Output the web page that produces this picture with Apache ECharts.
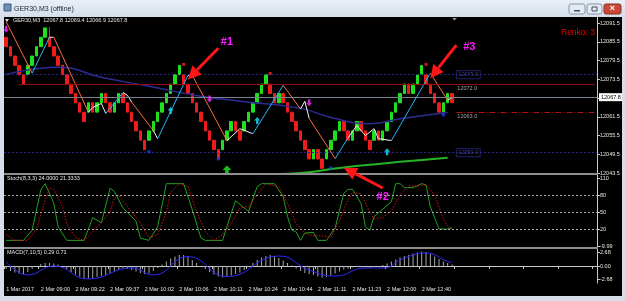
<!DOCTYPE html>
<html>
<head>
<meta charset="utf-8">
<script src="https://cdn.jsdelivr.net/npm/echarts@6/dist/echarts.min.js"></script>
<style>
  html, body { margin: 0; padding: 0; background: #d6dfe9; }
  #chart { width: 625px; height: 301px; }
</style>
</head>
<body>
<div id="chart"></div>
<script>
// time axis labels, one every 8 bars
const tickLabels = ['1 Mar 2017', '2 Mar 09:00', '2 Mar 09:22', '2 Mar 09:37', '2 Mar 10:02', '2 Mar 10:06',
  '2 Mar 10:11', '2 Mar 10:24', '2 Mar 10:44', '2 Mar 11:11', '2 Mar 11:23', '2 Mar 12:00', '2 Mar 12:40'];
const slotCount = 137; // bars + chart shift space
const brickSize = 3;
const firstOpen = 12087;
// renko brick closes
const brickClose = [12084, 12081, 12078, 12075, 12072, 12078, 12081, 12084, 12087, 12090,
  12084, 12081, 12078, 12075, 12072, 12069, 12066, 12063, 12060,
  12066, 12063, 12066, 12069, 12066, 12063, 12066, 12069, 12066, 12063, 12060, 12057, 12054, 12051,
  12057, 12060, 12063, 12066, 12069, 12072, 12075, 12078,
  12072, 12069, 12066, 12063, 12060, 12057, 12054, 12051, 12048,
  12054, 12057, 12060, 12057, 12054, 12060, 12063, 12066, 12069, 12072, 12075,
  12069, 12066, 12069, 12066, 12063, 12060, 12057, 12054, 12051, 12048,
  12051, 12048, 12045,
  12051, 12054, 12057, 12060, 12057, 12054, 12057, 12060, 12057, 12054, 12051,
  12057, 12054, 12057, 12060, 12063, 12066, 12069, 12072, 12069, 12072, 12075, 12078,
  12072, 12069, 12066, 12063, 12066, 12069, 12066];
// wick extremes seen on a few bricks: [index, low, high]
const brickWicks = [[10, 12084, 12090.3]];
const lastBar = ['12067.8', '12069.4', '12066.9', '12067.8'];
const priceTicks = [12091.5, 12085.5, 12079.5, 12073.5, 12067.5, 12061.5, 12055.5, 12049.5, 12043.5];
const lastPrice = 12067.8;
const dotLevels = [12075, 12050];
const resLevel = 12072;
const supLevel = 12063;

// coloured trend line: pivots and direction of each segment (1 up, -1 down, 0 flat)
const trendPts = [[0, 12092], [6, 12075.5], [10, 12087], [11, 12087], [19, 12063], [20, 12064.5], [22, 12065.8],
  [23, 12062.6], [27, 12069.3], [28, 12068.4], [29, 12066.2], [34, 12057.1], [35, 12054.5], [42, 12074.8],
  [43, 12074.8], [51, 12053.9], [54, 12057.7], [57, 12056.1], [64, 12071.6], [68, 12064], [69, 12066.5],
  [70, 12061], [76, 12048.1], [79, 12054.8], [81, 12058.7], [83, 12055.5], [85, 12057.7], [86, 12054.5],
  [89, 12053.9], [98, 12075.5], [102, 12066.8], [103, 12067.7]];
const trendDir = [-1, 1, 0, -1, 0, 0, 0, 1, 0, 0, -1, 0, 1, 0, -1, 0, 0, 1, -1, 0, 0, -1, 1, 0, 0, 0, 0, 0, 1, -1, 0];
const maSlow = [[0, 12075.1], [12, 12077.4], [22, 12074.2], [33, 12071.3], [45, 12068.1], [54, 12066.5],
  [68, 12064.2], [75, 12061.3], [84, 12059.3], [91, 12060.9], [102, 12062.9]];
const maLong = [[63, 12043.2], [68, 12043.5], [77, 12045.1], [86, 12046.4], [96, 12047.7], [102, 12048.4]];
const buyArrows = [[38, 12063.5], [58, 12060.3], [88, 12050.3]];
const sellArrows = [[0, 12089.6], [47, 12067.2], [70, 12066]];
const bigBuyArrows = [[51, 12044.5]];
const lowDots = [[33, 12050.3], [49, 12048], [75, 12045.1], [101, 12062.1]];
const highDots = [[41, 12078.3], [61, 12075.4], [97, 12078.3]];

// stochastic
const stochMain = [[0, 0], [4, 0], [6, 18], [8, 89], [9, 100], [11, 66], [12, 24], [14, 0], [18, 0], [20, 40],
  [22, 31], [24, 92], [25, 86], [27, 57], [30, 34], [31, 4], [33, 0], [35, 24], [37, 100], [41, 100], [43, 54],
  [45, 4], [46, 0], [50, 0], [52, 48], [53, 70], [56, 51], [58, 95], [59, 100], [62, 100], [64, 77], [65, 42],
  [66, 18], [67, 15], [68, 0], [69, 13], [71, 14], [72, 0], [74, 0], [76, 22], [78, 83], [79, 90], [80, 90],
  [82, 65], [83, 24], [84, 18], [85, 42], [89, 68], [90, 100], [91, 100], [92, 93], [94, 93], [96, 100],
  [97, 98], [98, 59], [100, 20], [102, 20], [103, 22]];
const stochSignal = [[0, 10], [2, 0], [5, 0], [7, 20], [9, 70], [10, 92], [11, 90], [13, 60], [14, 30], [16, 5],
  [18, 0], [20, 15], [22, 32], [24, 50], [25, 75], [26, 80], [28, 60], [31, 30], [33, 5], [35, 10], [37, 50],
  [38, 85], [40, 100], [42, 95], [44, 50], [46, 15], [48, 0], [50, 10], [52, 30], [54, 57], [56, 60], [58, 80],
  [60, 100], [63, 95], [65, 65], [67, 30], [69, 12], [71, 8], [73, 8], [75, 5], [77, 35], [79, 72], [80, 85],
  [82, 82], [84, 50], [85, 38], [87, 40], [89, 52], [91, 80], [93, 96], [95, 96], [97, 98], [99, 80],
  [101, 38], [102, 25], [103, 22]];
const stochLevels = [80, 50, 20];
const stochTicks = [110, 80, 50, 20, -10];

// macd
const macdHist = [-0.6, -1.0, -1.3, -1.5, -1.6, -1.2, -0.6, 0.0, 0.4, 0.6,
  0.6, 0.5, 0.3, 0.0, -0.6, -1.2, -1.7, -2.1, -2.4, -2.5,
  -2.4, -2.2, -2.0, -1.8, -1.5, -1.1, -0.8, -0.6, -0.6, -0.8,
  -1.1, -1.4, -1.6, -1.5, -1.0, -0.4, 0.3, 0.9, 1.5, 1.9,
  2.2, 2.2, 1.8, 1.2, 0.6, 0.0, -0.6, -1.2, -1.7, -2.1,
  -2.3, -2.2, -1.9, -1.6, -1.3, -0.8, -0.1, 0.6, 1.2, 1.7,
  2.0, 2.2, 2.0, 1.6, 1.1, 0.6, 0.1, -0.5, -1.0, -1.4,
  -1.6, -1.8, -2.1, -2.3, -2.2, -1.9, -1.5, -1.1, -0.7, -0.5,
  -0.3, -0.2, -0.3, -0.3, -0.4, -0.2, -0.1, 0.2, 0.5, 0.9,
  1.3, 1.7, 2.0, 2.2, 2.5, 2.7, 2.9, 2.8, 2.4, 1.9,
  1.4, 0.9, 0.6, 0.3];
const macdSignal = [[0, 0.9], [5, -1.8], [11, 0.0], [19, -2.6], [29, -0.4], [34, -1.8], [42, 1.9], [51, -2.1],
  [63, 2.0], [70, -0.8], [76, -2.0], [83, -0.4], [87, -0.4], [92, 1.6], [97, 2.6], [102, 0.9], [103, 0.71]];
const macdTicks = [2.66, 0, -2.66];
const macdTickText = ['2.68', '0.00', '-2.68'];

// annotations
const notes = [
  { text: '#1', from: [49, 12083.5], to: [42, 12073.5], label: [51, 12085.6] },
  { text: '#3', from: [104, 12084.5], to: [98, 12073.9], label: [107, 12083.9] },
  { text: '#2', from: [87, 12038.7], to: [78, 12045.2], label: [87, 12035.8] }
];

const categories = Array.from({ length: slotCount }, (_, i) => String(i));
const candles = brickClose.map((c, i) => {
  const prev = i === 0 ? firstOpen : brickClose[i - 1];
  const o = c > prev ? c - brickSize : c + brickSize;
  const w = brickWicks.find(r => r[0] === i);
  return [o, c, w ? w[1] : Math.min(o, c), w ? w[2] : Math.max(o, c)];
});

const FONT = 'Liberation Sans';
const axisText = { color: '#e6e6e6', fontSize: 5.5, fontFamily: FONT };
const upArrow = 'path://M5,0L10,5L7,5L7,10L3,10L3,5L0,5Z';

function hiddenX(gi) {
  return { type: 'category', gridIndex: gi, data: categories, show: false, boundaryGap: true };
}

const series = [
  {
    type: 'candlestick', xAxisIndex: 0, yAxisIndex: 0, data: candles, barWidth: 3,
    itemStyle: { color: '#1fe01f', color0: '#ee1c1c', borderColor: '#1fe01f', borderColor0: '#ee1c1c', borderWidth: 1 },
    markLine: {
      silent: true, symbol: 'none', animation: false,
      label: { show: false },
      data: [
        ...dotLevels.map(v => ({ yAxis: v, lineStyle: { color: '#26268a', type: [2, 2], width: 1 } })),
        [{ coord: [3, resLevel], lineStyle: { color: '#9a0a0a', type: 'solid', width: 1 } }, { coord: [slotCount - 1, resLevel] }],
        [{ coord: [104, supLevel], lineStyle: { color: '#b01010', type: [6, 2, 1, 2], width: 1 } }, { coord: [slotCount - 1, supLevel] }],
        {
          yAxis: lastPrice, lineStyle: { color: '#77828f', type: 'solid', width: 1 },
          label: {
            show: true, position: 'end', distance: 2, formatter: lastPrice.toFixed(1),
            backgroundColor: '#ffffff', color: '#000', fontSize: 5.5, fontFamily: FONT, padding: [1, 2]
          }
        }
      ]
    }
  },
  {
    type: 'line', xAxisIndex: 0, yAxisIndex: 0, data: maSlow, smooth: true, symbol: 'none',
    lineStyle: { color: '#2b2b95', width: 1.4 }, silent: true
  },
  {
    type: 'line', xAxisIndex: 0, yAxisIndex: 0, data: maLong, smooth: true, symbol: 'none',
    lineStyle: { color: '#26b426', width: 2 }, silent: true
  },
  {
    type: 'scatter', xAxisIndex: 0, yAxisIndex: 0, data: buyArrows, symbol: upArrow, symbolSize: [6, 7],
    itemStyle: { color: '#19e6ff' }, z: 5
  },
  {
    type: 'scatter', xAxisIndex: 0, yAxisIndex: 0, data: sellArrows, symbol: upArrow, symbolSize: [6, 7],
    symbolRotate: 180, itemStyle: { color: '#ff2cff' }, z: 5
  },
  {
    type: 'scatter', xAxisIndex: 0, yAxisIndex: 0, data: bigBuyArrows, symbol: upArrow, symbolSize: [9, 9],
    itemStyle: { color: '#22ee22' }, z: 5
  },
  {
    type: 'scatter', xAxisIndex: 0, yAxisIndex: 0, data: lowDots, symbol: 'rect', symbolSize: 3,
    itemStyle: { color: '#2040ff' }, z: 5
  },
  {
    type: 'scatter', xAxisIndex: 0, yAxisIndex: 0, data: highDots, symbol: 'rect', symbolSize: 3,
    itemStyle: { color: '#ff2020' }, z: 5
  },
  {
    type: 'scatter', xAxisIndex: 0, yAxisIndex: 0, symbolSize: 0, z: 6,
    data: dotLevels.map(v => [104, v]),
    label: {
      show: true, position: 'right', distance: 0, formatter: p => p.value[1].toFixed(1),
      color: '#4a4ab0', fontSize: 5.5, fontFamily: FONT, borderColor: '#2a2a8a', borderWidth: 1, padding: [1, 2]
    }
  },
  {
    type: 'scatter', xAxisIndex: 0, yAxisIndex: 0, symbolSize: 0, z: 6,
    data: [[104, resLevel], [104, supLevel]],
    label: {
      show: true, position: 'right', distance: 1, offset: [0, 4], formatter: p => p.value[1].toFixed(1),
      color: '#c8c8c8', fontSize: 5.5, fontFamily: FONT
    }
  },
  // stochastic
  {
    type: 'line', xAxisIndex: 1, yAxisIndex: 1, data: stochMain, symbol: 'none',
    lineStyle: { color: '#22a022', width: 1 }, silent: true,
    markLine: {
      silent: true, symbol: 'none', label: { show: false }, animation: false,
      lineStyle: { color: '#a8a8a8', type: [2, 2], width: 1 },
      data: stochLevels.map(v => ({ yAxis: v }))
    }
  },
  {
    type: 'line', xAxisIndex: 1, yAxisIndex: 1, data: stochSignal, symbol: 'none',
    lineStyle: { color: '#d01414', width: 1, type: [1.5, 1.5] }, silent: true
  },
  // macd
  {
    type: 'bar', xAxisIndex: 2, yAxisIndex: 2, data: macdHist, barWidth: 1,
    itemStyle: { color: '#a8a8a8' }, silent: true
  },
  {
    type: 'line', xAxisIndex: 2, yAxisIndex: 2, data: macdSignal, smooth: true, symbol: 'none',
    lineStyle: { color: '#2a2aff', width: 1 }, silent: true
  }
];

trendPts.slice(1).forEach((p, k) => {
  const col = trendDir[k] > 0 ? '#20b8ff' : trendDir[k] < 0 ? '#ff6a40' : '#f2f2f2';
  series.push({
    type: 'line', xAxisIndex: 0, yAxisIndex: 0, data: [trendPts[k], p], symbol: 'none',
    lineStyle: { color: col, width: 1 }, silent: true, z: 3
  });
});

const rightAxis = (gi, min, max, ticks, fmt) => ({
  type: 'value', gridIndex: gi, position: 'right', min: min, max: max, scale: true,
  axisLine: { show: true, lineStyle: { color: '#c8c8c8', width: 1 } },
  axisTick: { show: true, length: 3, lineStyle: { color: '#c8c8c8' }, customValues: ticks },
  axisLabel: Object.assign({ margin: 3, customValues: ticks, formatter: fmt }, axisText),
  splitLine: { show: false }
});

const option = {
  backgroundColor: '#000000',
  animation: false,
  grid: [
    { left: 4, top: 17, width: 593, height: 156 },
    { left: 4, top: 175, width: 593, height: 72 },
    { left: 4, top: 249, width: 593, height: 34 }
  ],
  xAxis: [
    hiddenX(0),
    hiddenX(1),
    {
      type: 'category', gridIndex: 2, data: categories, boundaryGap: true,
      axisLine: { show: true, lineStyle: { color: '#c8c8c8' } },
      axisTick: { show: true, interval: 7, length: 3, lineStyle: { color: '#c8c8c8' } },
      axisLabel: Object.assign({
        interval: 7, align: 'left', margin: 3,
        formatter: (v, idx) => (idx % 8 === 0 ? (tickLabels[idx / 8] || '') : '')
      }, axisText)
    }
  ],
  yAxis: [
    rightAxis(0, 12043.5, 12093.5, priceTicks, v => v.toFixed(1)),
    rightAxis(1, -11.7, 115.3, stochTicks, v => (v === -10 ? '-9.99' : String(v))),
    rightAxis(2, -3.4, 3.4, macdTicks, v => macdTickText[macdTicks.indexOf(v)] || '')
  ],
  series: series
};

const chart = echarts.init(document.getElementById('chart'));
chart.setOption(option);

// window chrome + annotations
const txt = (x, y, s, size, fill) => ({
  type: 'text', z: 100,
  style: { text: s, x: x, y: y, fill: fill, font: size + 'px "' + FONT + '"', textVerticalAlign: 'middle' }
});

const graphics = [
  {
    type: 'rect', z: 90, shape: { x: 0, y: 0, width: 625, height: 17 },
    style: { fill: new echarts.graphic.LinearGradient(0, 0, 0, 1, [{ offset: 0, color: '#e9eff6' }, { offset: 1, color: '#d4dee9' }]) }
  },
  { type: 'rect', z: 90, shape: { x: 0, y: 17, width: 4, height: 284 }, style: { fill: '#d6dfe9' } },
  { type: 'rect', z: 90, shape: { x: 622, y: 17, width: 3, height: 284 }, style: { fill: '#d6dfe9' } },
  { type: 'rect', z: 90, shape: { x: 0, y: 296, width: 625, height: 5 }, style: { fill: '#d6dfe9' } },
  { type: 'rect', z: 91, shape: { x: 4, y: 4, width: 7, height: 7 }, style: { fill: '#6d8fb8', stroke: '#3c5a80' } },
  txt(14, 9, 'GER30,M3 (offline)', 7, '#1c2733'),
  { type: 'rect', z: 91, shape: { x: 569, y: 4, width: 16, height: 10, r: 2 }, style: { fill: '#e3eaf2', stroke: '#8797ab' } },
  { type: 'rect', z: 91, shape: { x: 587, y: 4, width: 15, height: 10, r: 2 }, style: { fill: '#e3eaf2', stroke: '#8797ab' } },
  { type: 'rect', z: 91, shape: { x: 604, y: 4, width: 17, height: 10, r: 2 }, style: { fill: '#c9483a', stroke: '#8e2c22' } },
  { type: 'rect', z: 92, shape: { x: 574, y: 10, width: 6, height: 1.5 }, style: { fill: '#3a4a5c' } },
  { type: 'rect', z: 92, shape: { x: 592, y: 7, width: 5, height: 4 }, style: { fill: 'none', stroke: '#3a4a5c' } },
  { type: 'text', z: 100, style: { text: '×', x: 612.5, y: 9, fill: '#fff', font: 'bold 9px "' + FONT + '"', textAlign: 'center', textVerticalAlign: 'middle' } },
  // panel separators
  { type: 'rect', z: 20, shape: { x: 4, y: 173, width: 594, height: 2 }, style: { fill: '#8e8e8e' } },
  { type: 'rect', z: 20, shape: { x: 4, y: 247, width: 594, height: 2 }, style: { fill: '#8e8e8e' } },
  { type: 'polygon', z: 20, shape: { points: [[5, 19], [9, 19], [7, 22]] }, style: { fill: '#dcdcdc' } },
  { type: 'polygon', z: 20, shape: { points: [[452, 18], [457, 18], [454.5, 20.5]] }, style: { fill: '#9a9a9a' } },
  txt(13, 20.5, 'GER30,M3  ' + lastBar.join(' '), 5.5, '#e6e6e6'),
  txt(7, 178, 'Stoch(8,3,3) 24.0000 21.3333', 5.5, '#e6e6e6'),
  txt(7, 252, 'MACD(7,10,5) 0.29 0.71', 5.5, '#e6e6e6'),
  txt(561, 33, 'Renko: ' + brickSize, 8.5, '#e00808')
];

notes.forEach(n => {
  const a = chart.convertToPixel({ gridIndex: 0 }, n.from);
  const b = chart.convertToPixel({ gridIndex: 0 }, n.to);
  const dx = b[0] - a[0], dy = b[1] - a[1];
  const len = Math.sqrt(dx * dx + dy * dy);
  const ux = dx / len, uy = dy / len;
  const head = 13, half = 6.5;
  const bx = b[0] - ux * head, by = b[1] - uy * head;
  graphics.push({ type: 'line', z: 95, shape: { x1: a[0], y1: a[1], x2: bx, y2: by }, style: { stroke: '#ff1616', lineWidth: 3 } });
  graphics.push({
    type: 'polygon', z: 95,
    shape: { points: [[b[0], b[1]], [bx - uy * half, by + ux * half], [bx + uy * half, by - ux * half]] },
    style: { fill: '#ff1616' }
  });
  const l = chart.convertToPixel({ gridIndex: 0 }, n.label);
  graphics.push({
    type: 'text', z: 96,
    style: { text: n.text, x: l[0], y: l[1], fill: '#ff1aff', font: 'bold 11px "' + FONT + '"', textAlign: 'center', textVerticalAlign: 'middle' }
  });
});

chart.setOption({ graphic: graphics });
</script>
</body>
</html>
